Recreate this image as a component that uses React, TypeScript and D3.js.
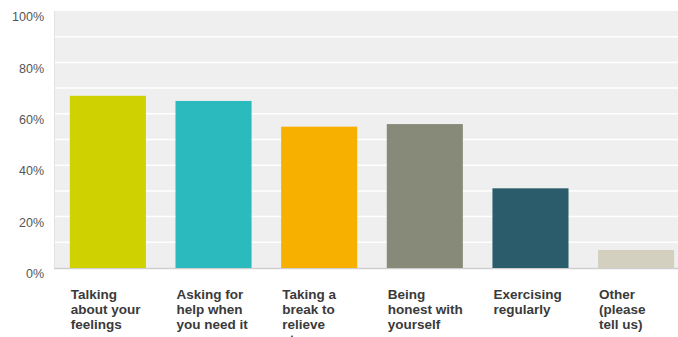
import React from "react";
import * as d3 from "d3";

const categories: string[][] = [
  ["Talking", "about your", "feelings"],
  ["Asking for", "help when", "you need it"],
  ["Taking a", "break to", "relieve", "stress"],
  ["Being", "honest with", "yourself"],
  ["Exercising", "regularly"],
  ["Other", "(please", "tell us)"],
];
const values: number[] = [67, 65, 55, 56, 31, 7];
const colors: string[] = ["#d0d100", "#2bbabd", "#f8b000", "#878979", "#2b5c6b", "#d3d0bf"];
const yTicks: number[] = [0, 20, 40, 60, 80, 100];
const gridValues: number[] = [10, 20, 30, 40, 50, 60, 70, 80, 90];

const W = 678;
const H = 337;
const left = 54;
const top = 11;
const bottom = 268;

export default function App() {
  const x = d3
    .scaleBand<number>()
    .domain(d3.range(values.length))
    .range([left, 690])
    .paddingInner(0.28)
    .paddingOuter(0.15);
  const y = d3.scaleLinear().domain([0, 100]).range([bottom, top]);
  const font = "Arial, 'Liberation Sans', Helvetica, sans-serif";

  return (
    <svg
      width={W}
      height={H}
      style={{ position: "absolute", left: 0, top: 0, background: "#fff" }}
    >
      <rect x={left} y={top} width={W - left} height={bottom - top} fill="#efefef" />
      {gridValues.map((g) => (
        <line key={g} x1={left} x2={W} y1={y(g)} y2={y(g)} stroke="#ffffff" strokeWidth={1.5} />
      ))}
      <line x1={left} x2={W} y1={bottom + 0.5} y2={bottom + 0.5} stroke="#cfcfcf" strokeWidth={1.5} />
      <line x1={left + 0.5} x2={left + 0.5} y1={top} y2={bottom} stroke="#e2e2e2" strokeWidth={1} />
      {yTicks.map((t) => (
        <text
          key={t}
          x={44}
          y={y(t) + 7}
          textAnchor="end"
          dominantBaseline="middle"
          fontFamily={font}
          fontSize={12.5}
          fill="#555"
        >
          {t}%
        </text>
      ))}
      {values.map((v, i) => (
        <rect
          key={i}
          x={x(i)}
          y={y(v)}
          width={x.bandwidth()}
          height={bottom - y(v)}
          fill={colors[i]}
        />
      ))}
      {categories.map((lines, i) => (
        <text key={i} fontFamily={font} fontSize={13.5} fontWeight="bold" fill="#3a3a3a">
          {lines.map((l, j) => (
            <tspan key={j} x={(x(i) as number) + 1} y={295 + j * 15} dominantBaseline="middle">
              {l}
            </tspan>
          ))}
        </text>
      ))}
    </svg>
  );
}
